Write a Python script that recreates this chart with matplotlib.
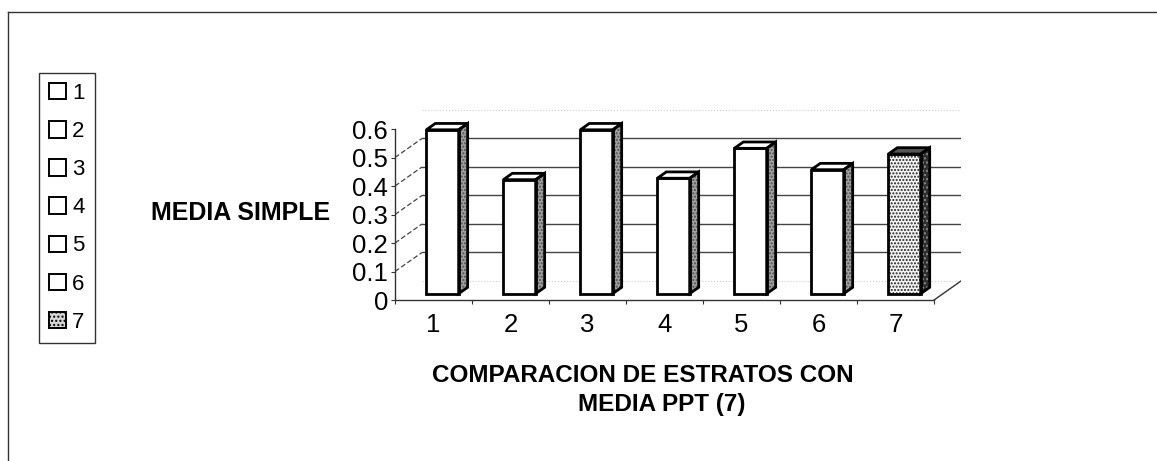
import matplotlib
matplotlib.use("Agg")
import matplotlib.pyplot as plt
from matplotlib.patches import Polygon, Patch
from matplotlib.lines import Line2D

plt.rcParams["font.family"] = ["Liberation Sans", "DejaVu Sans"]

# data
categories = ["1", "2", "3", "4", "5", "6", "7"]
media_simple = [0.575, 0.40, 0.575, 0.405, 0.51, 0.435, 0.49]
y_ticks = [0, 0.1, 0.2, 0.3, 0.4, 0.5, 0.6]
y_tick_labels = ["0", "0.1", "0.2", "0.3", "0.4", "0.5", "0.6"]
y_title = "MEDIA SIMPLE"
x_title_1 = "COMPARACION DE ESTRATOS CON"
x_title_2 = "MEDIA PPT (7)"

W, H = 1157, 461

# fake 3d depth of the floor, in data units
DX, DY = 0.35, 0.0667
BX, BY = DX / 3, DY / 3
BAR_W = 0.42


def face(ax, pts, fc, hatch=None, hatch_color=None, z=3):
    ax.add_patch(Polygon(pts, closed=True, facecolor=fc, edgecolor="none",
                         zorder=z, clip_on=False))
    if hatch:
        ax.add_patch(Polygon(pts, closed=True, fill=False, hatch=hatch,
                             edgecolor=hatch_color, lw=0, zorder=z + 0.1,
                             clip_on=False))
    ax.add_patch(Polygon(pts, closed=True, fill=False, edgecolor="black",
                         lw=2, joinstyle="miter", zorder=z + 0.2,
                         clip_on=False))


def draw_column(ax, x, h, last=False):
    x0 = x - BAR_W / 2 + BX
    x1 = x + BAR_W / 2 + BX
    y0, y1 = BY, h + BY
    front = [(x0, y0), (x1, y0), (x1, y1), (x0, y1)]
    side = [(x1, y0), (x1 + BX, y0 + BY), (x1 + BX, y1 + BY), (x1, y1)]
    top = [(x0, y1), (x1, y1), (x1 + BX, y1 + BY), (x0 + BX, y1 + BY)]
    if last:
        face(ax, front, "#f4f4f4", ".....", "#222222")
        face(ax, side, "#2e2e2e", "....", "#8a8a8a")
        face(ax, top, "#555555")
    else:
        face(ax, front, "white")
        face(ax, side, "#a0a0a0", ".....", "#505050")
        face(ax, top, "white")


fig = plt.figure(figsize=(W / 100, H / 100), dpi=100)
ax = fig.add_axes([395 / W, (H - 300) / H, 566 / W, 190 / H])
ax.set_xlim(0.5, 7.5 + DX)
ax.set_ylim(0, 0.6 + DY)

xs = list(range(1, len(categories) + 1))

# back wall gridlines and the dashed lines joining them to the front axis
for v in y_ticks[1:-1]:
    ax.plot([0.5 + DX, 7.5 + DX], [v + DY, v + DY], color="#444444", lw=1, zorder=1)
    ax.plot([0.5, 0.5 + DX], [v, v + DY], color="#444444", lw=0.9,
            ls=(0, (4, 2)), zorder=1)
ax.plot([0.5 + DX, 7.5 + DX], [0.6 + DY, 0.6 + DY], color="#cccccc", lw=0.8,
        ls=":", zorder=1, clip_on=False)
ax.plot([0.5 + DX, 7.5 + DX], [DY, DY], color="#cccccc", lw=0.8, ls=":", zorder=1)
ax.plot([7.5, 7.5 + DX], [0, DY], color="#333333", lw=1, zorder=1)

for x, v in zip(xs, media_simple):
    draw_column(ax, x, v, last=(x == xs[-1]))

for s in ["top", "right"]:
    ax.spines[s].set_visible(False)
ax.spines["left"].set_bounds(0, 0.6)
ax.spines["bottom"].set_bounds(0.5, 7.5)
for s in ["left", "bottom"]:
    ax.spines[s].set_linewidth(1)
    ax.spines[s].set_color("#333333")

ax.set_yticks(y_ticks)
ax.set_yticklabels(y_tick_labels, fontsize=18.5)
ax.tick_params(axis="y", length=3, pad=2, colors="#333333", labelcolor="black")

ax.set_xticks([i + 0.5 for i in range(0, 8)])
ax.set_xticklabels([])
ax.set_xticks(xs, minor=True)
ax.set_xticklabels(categories, minor=True, fontsize=18.5)
ax.tick_params(axis="x", which="major", length=3, colors="#333333")
ax.tick_params(axis="x", which="minor", length=0, pad=9)

fig.text(330 / W, 1 - 213 / H, y_title, ha="right", va="center",
         fontsize=18, fontweight="bold")
fig.text(643 / W, 1 - 376 / H, x_title_1, ha="center", va="center",
         fontsize=17.5, fontweight="bold")
fig.text(662 / W, 1 - 404 / H, x_title_2, ha="center", va="center",
         fontsize=17.5, fontweight="bold")

handles = [Patch(facecolor="white", edgecolor="black", lw=1.4) for _ in categories[:-1]]
handles.append(Patch(facecolor="#d6d6d6", edgecolor="black", lw=1.4, hatch="...."))
leg = fig.legend(handles, categories, loc="upper left",
                 bbox_to_anchor=(39 / W, 1 - 73 / H), borderaxespad=0,
                 fontsize=16, handlelength=0.75, handleheight=0.75,
                 handletextpad=0.3, labelspacing=0.77, borderpad=0.45,
                 fancybox=False, framealpha=1)
leg.get_frame().set_edgecolor("#333333")
leg.get_frame().set_linewidth(1)

# outer chart border (left and top edges only are visible in the scan)
fig.add_artist(Line2D([8 / W, 8 / W], [0, 1 - 12 / H], transform=fig.transFigure,
                      color="#333333", lw=1))
fig.add_artist(Line2D([8 / W, 1], [1 - 12 / H, 1 - 12 / H], transform=fig.transFigure,
                      color="#333333", lw=1))

fig.savefig("out.png", dpi=100)
